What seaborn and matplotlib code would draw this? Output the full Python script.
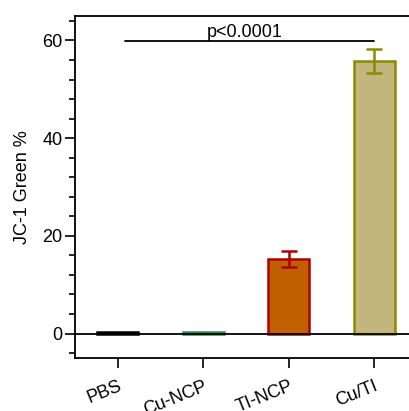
import matplotlib
matplotlib.use("Agg")
import matplotlib.pyplot as plt
import seaborn as sns
import pandas as pd
from matplotlib.ticker import MultipleLocator

categories = ["PBS", "Cu-NCP", "TI-NCP", "Cu/TI"]
values = [0.3, 0.3, 15.2, 55.8]
errors = [0.0, 0.0, 1.6, 2.5]
fill_colors = ["#404040", "#A8D8C0", "#C06000", "#C2B67C"]
edge_colors = ["#000000", "#2E8B57", "#B00000", "#8B8B00"]
yticks = [0, 20, 40, 60]
p_text = "p<0.0001"

sns.set_theme(style="ticks")
plt.rcParams["font.family"] = ["Liberation Sans", "DejaVu Sans"]
plt.rcParams["text.color"] = "black"
plt.rcParams["axes.labelcolor"] = "black"
plt.rcParams["xtick.color"] = "black"
plt.rcParams["ytick.color"] = "black"

df = pd.DataFrame({"group": categories, "value": values})

W, H = 410, 411
fig = plt.figure(figsize=(W / 100, H / 100), dpi=100)
ax = fig.add_axes([75 / W, (H - 358) / H, 342 / W, (358 - 16) / H])

sns.barplot(data=df, x="group", y="value", hue="group", palette=fill_colors,
            saturation=1, legend=False, errorbar=None, width=0.48, ax=ax,
            linewidth=1.8)
for patch, ec in zip(ax.patches, edge_colors):
    patch.set_edgecolor(ec)

for i, (v, e, ec) in enumerate(zip(values, errors, edge_colors)):
    if e > 0:
        ax.errorbar(i, v, yerr=e, color=ec, capsize=6, capthick=1.8,
                    elinewidth=1.8, fmt="none", zorder=3)

ax.axhline(0, color="black", lw=1.3, zorder=4)

ax.set_xlim(-0.5, 3.5)
ax.set_ylim(-5, 65)
ax.set_yticks(yticks)
ax.yaxis.set_minor_locator(MultipleLocator(4))
ax.tick_params(axis="y", which="major", length=7, width=1.2, labelsize=13, direction="out", pad=2)
ax.tick_params(axis="y", which="minor", length=4, width=1.2, direction="out")
ax.tick_params(axis="x", which="major", length=7, width=1.2, labelsize=13, direction="out", pad=7)

for lab in ax.get_xticklabels():
    lab.set_rotation(22)
    lab.set_ha("right")
    lab.set_rotation_mode("anchor")

for s in ["left", "top", "bottom"]:
    ax.spines[s].set_linewidth(1.3)
    ax.spines[s].set_color("black")
ax.spines["right"].set_visible(False)

ax.set_xlabel("")
ax.set_ylabel("JC-1 Green %", fontsize=13, labelpad=8)

ax.plot([0.08, 3.0], [59.8, 59.8], color="black", lw=1.3, clip_on=False)
ax.text(1.48, 59.9, p_text, ha="center", va="bottom", fontsize=13)

fig.savefig("out.png", dpi=100)
